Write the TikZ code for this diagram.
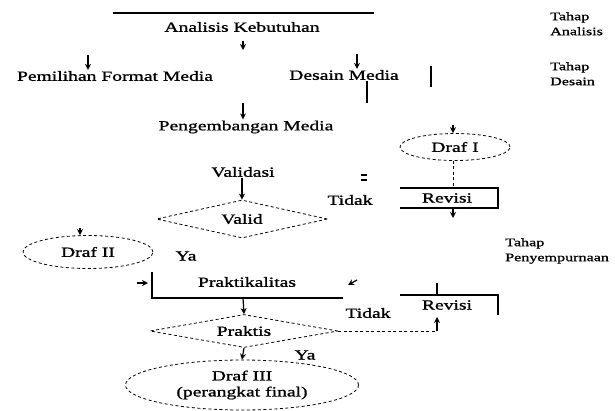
\documentclass[tikz,border=0pt]{standalone}
\usepackage{fontspec}
\setmainfont[FakeStretch=1.4,FakeBold=1.2]{Liberation Serif}
\usetikzlibrary{shapes.geometric,arrows.meta}
\begin{document}
\begin{tikzpicture}[x=1pt,y=-1pt,
  lbl/.style={font=\fontsize{14}{16}\selectfont, inner sep=1pt},
  side/.style={font=\fontsize{11.5}{15}\selectfont, align=left, anchor=north west, inner sep=0pt},
  dsh/.style={dash pattern=on 3pt off 2.5pt, line width=0.8pt},
  dell/.style={ellipse, draw, dsh, inner sep=0pt, font=\fontsize{14}{16}\selectfont, align=center},
  ddia/.style={diamond, draw, dsh, inner sep=0pt, font=\fontsize{14}{16}\selectfont},
  ar/.style={-{Stealth[length=6pt,width=6pt]}, line width=1.2pt},
  ln/.style={line width=1.4pt}]
\useasboundingbox (0,0) rectangle (615,410);

% top
\coordinate (tl) at (113,13);
\coordinate (tr) at (374,13);
\draw[ln] (tl) -- (tr);
\node[lbl] (ak) at (242,27) {Analisis Kebutuhan};
\coordinate (a1s) at (243,41);
\coordinate (a1e) at (243,50);
\draw[ar] (a1s) -- (a1e);

\node[side] (tA) at (550,12) {Tahap\\Analisis};
\node[side] (tD) at (550,62) {Tahap\\Desain};
\node[side] (tP) at (505,238) {Tahap\\Penyempurnaan};

% design level
\node[lbl] (pfm) at (115,76) {Pemilihan Format Media};
\coordinate (a2s) at (88,55);
\draw[ar] (a2s) -- (a2s |- pfm.north);
\node[lbl] (dm) at (344,75) {Desain Media};
\coordinate (d1s) at (357,54);
\draw[ar] (d1s) -- (d1s |- dm.north);
\coordinate (v1a) at (431,66);
\coordinate (v1b) at (431,87);
\draw[ln] (v1a) -- (v1b);
\coordinate (v2b) at (367,103);
\draw[ln] (v2b |- dm.south) -- (v2b);

\node[lbl] (pm) at (246,127) {Pengembangan Media};
\coordinate (pms) at (243,103);
\draw[ar] (pms) -- (pms |- pm.north);

% Draf I and revisi
\node[dell, minimum width=110pt, minimum height=27pt] (dI) at (455,147) {Draf I};
\coordinate (dIa) at (453,125);
\draw[ar] (dIa) -- (dIa |- dI.north);
\coordinate (r1a) at (400,188);
\coordinate (r1b) at (498,188);
\coordinate (r1c) at (498,208);
\coordinate (r1d) at (400,208);
\draw[ln] (r1a) -- (r1b) -- (r1c) -- (r1d);
\node[lbl] (rev1) at (447,198) {Revisi};
\draw[dsh] (dI.south -| dIa) -- (dIa |- r1a);
\coordinate (r1e) at (453,218);
\draw[ar] (dIa |- r1d) -- (r1e);
\node[lbl] (td1) at (350,200) {Tidak};
\coordinate (m1) at (361,175);
\coordinate (m2) at (367,175);
\coordinate (m3) at (361,180);
\coordinate (m4) at (367,180);
\draw[line width=1.5pt] (m1) -- (m2) (m3) -- (m4);

% validasi
\node[lbl] (val) at (243,172) {Validasi};
\node[ddia, minimum width=171pt, minimum height=38pt, aspect=4.5] (valid) at (242,219) {Valid};
\draw[ar] (val.south -| valid.north) -- (valid.north);

% Draf II
\node[dell, minimum width=130pt, minimum height=33pt] (dII) at (88,252) {Draf II};
\coordinate (dIIa) at (80,228);
\draw[ar] (dIIa) -- (dIIa |- dII.north);
\node[lbl] (ya1) at (186,256) {Ya};

% praktikalitas
\node[lbl] (pk) at (247,282) {Praktikalitas};
\coordinate (p1) at (152,272);
\coordinate (p2) at (152,298);
\coordinate (p3) at (343,298);
\draw[ln] (p1) -- (p2) -- (p3);
\coordinate (pa1) at (137,283);
\coordinate (pa2) at (148,283);
\draw[ar] (pa1) -- (pa2);
\coordinate (pa3) at (357,280);
\coordinate (pa4) at (348,285);
\draw[ar] (pa3) -- (pa4);

% revisi 2
\coordinate (r2a) at (400,295);
\coordinate (r2b) at (498,295);
\coordinate (r2c) at (498,315);
\draw[ln] (r2a) -- (r2b) -- (r2c);
\coordinate (r2t) at (437,283);
\draw[ln] (r2t) -- (r2t |- r2a);
\node[lbl] (rev2) at (447,305) {Revisi};
\node[lbl] (td2) at (368,313) {Tidak};

% praktis
\node[ddia, minimum width=188pt, minimum height=33pt, aspect=5.7] (prak) at (244,331) {Praktis};
\draw[ar] (p2 -| 243,0) -- (prak.north);
\coordinate (r2u) at (437,317);
\coordinate (r2k) at (437,331);
\draw[dsh] (prak.east) -- (r2k);
\draw[ar] (r2k) -- (r2u);

% Draf III
\node[dell, minimum width=233pt, minimum height=50pt] (dIII) at (242,385) {Draf III\\(perangkat final)};
\draw[ar] (prak.south) -- (dIII.north);
\node[lbl] (ya2) at (305,355) {Ya};
\end{tikzpicture}
\end{document}
